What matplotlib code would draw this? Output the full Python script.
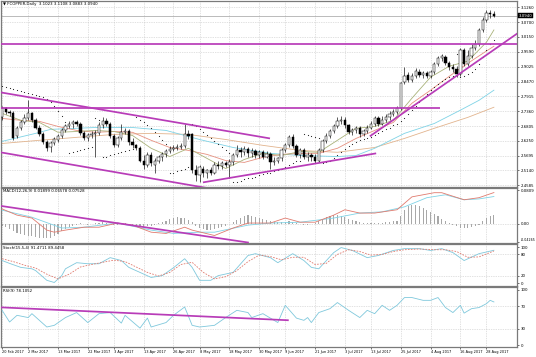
import matplotlib
matplotlib.use('Agg')
import matplotlib.pyplot as plt
import numpy as np

# ---------------- data ----------------
title_text = "\u25BC FCOPPER,Daily  3.1023 3.1108 3.0883 3.0940"
macd_text = "MACD(12,26,9) 0.01899 0.06578 0.07528"
stoch_text = "Stoch(15,5,4) 91.4711 89.4458"
rsi_text = "RSI(9) 78.1052"

date_labels = ["20 Feb 2017", "2 Mar 2017", "13 Mar 2017", "22 Mar 2017", "3 Apr 2017",
               "13 Apr 2017", "26 Apr 2017", "8 May 2017", "18 May 2017", "30 May 2017",
               "9 Jun 2017", "21 Jun 2017", "3 Jul 2017", "13 Jul 2017", "25 Jul 2017",
               "4 Aug 2017", "16 Aug 2017", "28 Aug 2017"]
date_label_idx = [0, 7, 15, 23, 30, 38, 46, 53, 61, 69, 76, 84, 92, 99, 107, 115, 123, 130]

price_ticks = [3.1260, 3.0700, 3.0150, 2.9590, 2.9025, 2.8470, 2.7915, 2.7360,
               2.6805, 2.6250, 2.5695, 2.5140, 2.4585]
last_price = 3.0940

open_ = [2.713, 2.747, 2.732, 2.728, 2.642, 2.672, 2.694, 2.709, 2.728, 2.702,
         2.675, 2.649, 2.619, 2.600, 2.615, 2.627, 2.642, 2.664, 2.679, 2.687,
         2.694, 2.687, 2.653, 2.634, 2.645, 2.649, 2.653, 2.683, 2.698, 2.687,
         2.642, 2.608, 2.634, 2.657, 2.660, 2.619, 2.608, 2.597, 2.551, 2.533,
         2.570, 2.533, 2.548, 2.563, 2.574, 2.585, 2.593, 2.597, 2.600, 2.604,
         2.649, 2.649, 2.514, 2.495, 2.521, 2.503, 2.514, 2.506, 2.536, 2.529,
         2.540, 2.533, 2.544, 2.570, 2.589, 2.582, 2.593, 2.578, 2.585, 2.570,
         2.582, 2.566, 2.574, 2.544, 2.551, 2.559, 2.589, 2.608, 2.638, 2.604,
         2.570, 2.589, 2.563, 2.570, 2.563, 2.551, 2.589, 2.623, 2.642, 2.660,
         2.679, 2.698, 2.705, 2.683, 2.657, 2.664, 2.672, 2.649, 2.660, 2.675,
         2.687, 2.709, 2.687, 2.702, 2.713, 2.724, 2.732, 2.747, 2.845, 2.871,
         2.852, 2.867, 2.883, 2.871, 2.879, 2.867, 2.883, 2.913, 2.935, 2.939,
         2.916, 2.901, 2.894, 2.875, 2.965, 2.913, 2.943, 2.973, 2.988, 3.041,
         3.078, 3.105, 3.1023]
close = [2.747, 2.732, 2.728, 2.634, 2.672, 2.694, 2.709, 2.728, 2.702, 2.675,
         2.649, 2.619, 2.597, 2.615, 2.630, 2.642, 2.664, 2.679, 2.690, 2.694,
         2.687, 2.653, 2.634, 2.645, 2.649, 2.653, 2.683, 2.698, 2.687, 2.642,
         2.608, 2.634, 2.657, 2.660, 2.619, 2.608, 2.597, 2.551, 2.533, 2.570,
         2.540, 2.548, 2.563, 2.574, 2.585, 2.593, 2.597, 2.600, 2.604, 2.649,
         2.642, 2.514, 2.495, 2.525, 2.503, 2.514, 2.506, 2.536, 2.529, 2.540,
         2.533, 2.544, 2.570, 2.589, 2.582, 2.593, 2.578, 2.585, 2.570, 2.582,
         2.566, 2.574, 2.544, 2.551, 2.559, 2.589, 2.608, 2.638, 2.604, 2.570,
         2.589, 2.563, 2.570, 2.563, 2.551, 2.589, 2.623, 2.642, 2.660, 2.679,
         2.698, 2.705, 2.683, 2.657, 2.664, 2.672, 2.649, 2.660, 2.675, 2.687,
         2.709, 2.687, 2.702, 2.713, 2.724, 2.732, 2.747, 2.841, 2.867, 2.852,
         2.867, 2.886, 2.871, 2.879, 2.867, 2.883, 2.913, 2.935, 2.943, 2.916,
         2.901, 2.894, 2.875, 2.965, 2.913, 2.943, 2.973, 2.988, 3.041, 3.078,
         3.105, 3.101, 3.0940]
high = [2.755, 2.751, 2.740, 2.736, 2.679, 2.702, 2.724, 2.777, 2.732, 2.709,
        2.683, 2.657, 2.627, 2.623, 2.638, 2.649, 2.672, 2.690, 2.698, 2.702,
        2.705, 2.694, 2.660, 2.653, 2.660, 2.664, 2.694, 2.713, 2.709, 2.694,
        2.649, 2.642, 2.687, 2.672, 2.668, 2.634, 2.612, 2.604, 2.570, 2.582,
        2.582, 2.559, 2.570, 2.582, 2.593, 2.604, 2.608, 2.612, 2.615, 2.687,
        2.664, 2.653, 2.533, 2.533, 2.529, 2.521, 2.525, 2.544, 2.548, 2.551,
        2.551, 2.555, 2.578, 2.608, 2.600, 2.604, 2.600, 2.597, 2.593, 2.589,
        2.589, 2.585, 2.582, 2.563, 2.566, 2.597, 2.615, 2.645, 2.649, 2.612,
        2.597, 2.597, 2.582, 2.578, 2.574, 2.597, 2.630, 2.653, 2.668, 2.687,
        2.713, 2.717, 2.713, 2.690, 2.675, 2.679, 2.679, 2.668, 2.683, 2.698,
        2.717, 2.717, 2.717, 2.724, 2.736, 2.743, 2.755, 2.845, 2.901, 2.883,
        2.879, 2.898, 2.894, 2.886, 2.886, 2.890, 2.920, 2.943, 2.950, 2.947,
        2.924, 2.913, 2.905, 2.973, 2.973, 2.965, 2.988, 3.003, 3.048, 3.090,
        3.116, 3.116, 3.1108]
low = [2.705, 2.724, 2.717, 2.627, 2.634, 2.664, 2.687, 2.702, 2.694, 2.668,
       2.642, 2.612, 2.585, 2.582, 2.608, 2.619, 2.634, 2.657, 2.672, 2.675,
       2.679, 2.645, 2.627, 2.623, 2.634, 2.563, 2.645, 2.672, 2.679, 2.634,
       2.600, 2.600, 2.627, 2.649, 2.608, 2.597, 2.589, 2.544, 2.521, 2.525,
       2.529, 2.503, 2.540, 2.551, 2.566, 2.578, 2.585, 2.589, 2.593, 2.597,
       2.630, 2.506, 2.476, 2.469, 2.491, 2.487, 2.495, 2.499, 2.521, 2.521,
       2.525, 2.487, 2.536, 2.563, 2.566, 2.570, 2.566, 2.563, 2.559, 2.559,
       2.555, 2.559, 2.521, 2.536, 2.540, 2.551, 2.582, 2.600, 2.597, 2.563,
       2.559, 2.555, 2.551, 2.551, 2.540, 2.544, 2.582, 2.615, 2.634, 2.653,
       2.672, 2.687, 2.675, 2.649, 2.645, 2.653, 2.638, 2.642, 2.653, 2.668,
       2.679, 2.679, 2.683, 2.694, 2.705, 2.717, 2.724, 2.740, 2.837, 2.845,
       2.845, 2.860, 2.864, 2.860, 2.860, 2.860, 2.875, 2.905, 2.924, 2.909,
       2.890, 2.883, 2.864, 2.867, 2.905, 2.905, 2.935, 2.965, 2.980, 3.033,
       3.071, 3.086, 3.0883]

sar = [2.830, 2.826, 2.822, 2.819, 2.815, 2.811, 2.807, 2.804, 2.800, 2.796,
       2.792, 2.788, 2.781, 2.770, 2.755, 2.736, 2.717, 2.694, 2.578, 2.582,
       2.585, 2.589, 2.593, 2.597, 2.600, 2.709, 2.705, 2.563, 2.566, 2.570,
       2.574, 2.578, 2.582, 2.585, 2.589, 2.593, 2.713, 2.705, 2.694, 2.683,
       2.672, 2.657, 2.642, 2.627, 2.612, 2.503, 2.506, 2.510, 2.514, 2.518,
       2.525, 2.687, 2.679, 2.668, 2.657, 2.645, 2.634, 2.623, 2.612, 2.600,
       2.589, 2.578, 2.469, 2.472, 2.476, 2.480, 2.484, 2.487, 2.491, 2.495,
       2.499, 2.503, 2.506, 2.510, 2.514, 2.518, 2.525, 2.533, 2.540, 2.548,
       2.551, 2.649, 2.645, 2.642, 2.638, 2.634, 2.540, 2.544, 2.551, 2.559,
       2.570, 2.582, 2.593, 2.604, 2.612, 2.619, 2.627, 2.630, 2.634, 2.638,
       2.645, 2.653, 2.660, 2.668, 2.675, 2.683, 2.690, 2.698, 2.709, 2.724,
       2.740, 2.755, 2.770, 2.785, 2.800, 2.815, 2.826, 2.837, 2.849, 2.856,
       2.864, 2.867, 2.950, 2.864, 2.867, 2.875, 2.883, 2.894, 2.913, 2.939,
       2.965, 2.988, 3.003]

# moving averages (bar index, value)
ma_fast_idx = [0, 5, 10, 15, 20, 25, 30, 35, 40, 45, 50, 55, 60, 65, 70, 75, 80, 85, 90, 95,
               100, 105, 110, 115, 120, 125, 130, 132]
ma_fast = [2.728, 2.702, 2.694, 2.657, 2.660, 2.664, 2.660, 2.645, 2.597, 2.566, 2.597, 2.559,
           2.521, 2.555, 2.578, 2.570, 2.585, 2.582, 2.627, 2.672, 2.679, 2.702, 2.785, 2.864,
           2.905, 2.924, 2.995, 3.041]
ma_mid_idx = [0, 5, 10, 15, 20, 25, 30, 35, 40, 45, 50, 55, 60, 65, 70, 75, 80, 85, 90, 95,
              100, 105, 110, 115, 120, 125, 130, 132]
ma_mid = [2.709, 2.702, 2.698, 2.679, 2.664, 2.657, 2.660, 2.657, 2.627, 2.600, 2.589, 2.574,
          2.551, 2.544, 2.563, 2.574, 2.578, 2.578, 2.597, 2.634, 2.664, 2.694, 2.766, 2.815,
          2.867, 2.916, 2.962, 2.980]
ma_slow_idx = [0, 9, 13, 25, 35, 44, 53, 62, 72, 80, 90, 95, 100, 108, 116, 123, 128, 132]
ma_slow = [2.623, 2.653, 2.668, 2.675, 2.675, 2.664, 2.630, 2.600, 2.578, 2.570, 2.566, 2.570,
           2.597, 2.653, 2.690, 2.740, 2.777, 2.815]
ma_long_idx = [0, 10, 20, 30, 40, 50, 60, 70, 80, 90, 100, 108, 116, 125, 132]
ma_long = [2.615, 2.627, 2.638, 2.649, 2.653, 2.649, 2.630, 2.608, 2.589, 2.582, 2.600, 2.634,
           2.672, 2.713, 2.751]

# user drawn lines (bar index pairs, price pairs)
trend_idx = [[-0.5, 71.9], [-0.5, 55.8], [53.9, 100.4], [98.7, 138.4]]
trend_val = [[2.807, 2.634], [2.582, 2.446], [2.469, 2.578], [2.642, 3.029]]
hlines_val = [2.988, 2.747]
hlines_idx = [[-0.5, 140.0], [-0.5, 117.5]]

# MACD
macd_idx = [0, 4, 8, 12, 14, 17, 22, 26, 31, 35, 40, 44, 49, 51, 57, 62, 66, 72, 76, 80, 84,
            89, 92, 96, 100, 106, 110, 116, 118, 124, 128, 132]
macd_main = [0.036, 0.021, 0.014, -0.015, -0.020, -0.015, -0.008, -0.008, 0.002, -0.003,
             -0.020, -0.023, -0.008, -0.015, -0.028, -0.010, 0.002, 0.002, 0.014, 0.004,
             0.004, 0.021, 0.034, 0.026, 0.026, 0.034, 0.065, 0.075, 0.075, 0.058, 0.063,
             0.0753]
signal_idx = [0, 8, 16, 22, 31, 40, 46, 53, 57, 66, 72, 80, 89, 96, 102, 108, 114, 119, 124,
              128, 132]
macd_signal = [0.033, 0.016, -0.010, -0.008, 0.002, -0.015, -0.023, -0.020, -0.020, -0.003,
               0.002, 0.004, 0.014, 0.026, 0.029, 0.041, 0.063, 0.070, 0.058, 0.060, 0.0658]
macd_hist = [-0.004, -0.008, -0.012,
             -0.018, -0.022, -0.025, -0.027, -0.028, -0.030, -0.031, -0.033, -0.034, -0.035,
             -0.033, -0.030,
             -0.024, -0.018, -0.012, -0.007, -0.004, -0.002,
             0.001, -0.001, -0.002, 0.000, 0.002, 0.003, 0.004, 0.002, -0.001, -0.003,
             -0.002, 0.001, 0.002, -0.002, -0.004, -0.006, -0.008, -0.008, -0.006, -0.004,
             -0.002, 0.002, 0.005, 0.008, 0.011,
             0.014, 0.016, 0.015, 0.013, 0.010,
             0.004, -0.004, -0.009, -0.012, -0.014, -0.015, -0.013, -0.010, -0.007, -0.004,
             -0.001, 0.004, 0.009, 0.014, 0.018, 0.021, 0.020, 0.017, 0.014, 0.011,
             0.009, 0.007, 0.005, 0.004, 0.004, 0.005, 0.006, 0.004, 0.002, 0.000, -0.002,
             -0.002, 0.000, 0.002,
             0.006, 0.011, 0.016, 0.019, 0.021, 0.021, 0.019, 0.016, 0.012, 0.009, 0.006,
             0.004, 0.002, 0.001, 0.001, 0.002, 0.003, 0.003, 0.004, 0.005, 0.006, 0.008,
             0.020, 0.034, 0.042, 0.046, 0.045, 0.042, 0.038, 0.033, 0.028, 0.023, 0.018,
             0.012, 0.007, 0.003,
             -0.002, -0.006, -0.009, -0.010, -0.010, -0.008, -0.006, -0.003,
             0.008, 0.015, 0.020, 0.021]
macd_trend_idx = [-0.5, 66.0]
macd_trend_val = [0.0434, -0.0448]
macd_ticks = [0.0809, 0.0, -0.04265]
macd_ticklabels = ["0.0809", "0.00", "-0.04265"]

# Stochastic
stoch_k_idx = [0, 2, 5, 8, 9, 12, 14, 16, 17, 20, 23, 26, 29, 32, 34, 37, 40, 43, 46, 49, 51,
               53, 56, 58, 62, 66, 68, 72, 74, 78, 81, 83, 85, 89, 91, 94, 98, 101, 105, 108,
               112, 115, 118, 121, 124, 128, 132]
stoch_k = [63, 55, 44, 40, 35, 8, 2, 21, 40, 57, 54, 54, 71, 63, 44, 30, 16, 21, 43, 68, 44,
           8, 8, 21, 30, 77, 82, 71, 57, 82, 63, 44, 40, 85, 99, 91, 71, 77, 91, 96,
           96, 91, 96, 85, 63, 82, 91.47]
stoch_d_idx = [0, 3, 6, 9, 12, 15, 18, 21, 24, 27, 30, 33, 36, 39, 42, 45, 48, 51, 54, 57, 60,
               63, 66, 69, 72, 75, 78, 81, 84, 87, 90, 93, 96, 99, 102, 105, 108, 112, 116,
               119, 122, 125, 128, 132]
stoch_d = [68, 60, 50, 42, 25, 12, 25, 45, 52, 58, 64, 60, 45, 30, 20, 30, 52, 58, 30, 12, 18,
           35, 60, 78, 74, 65, 72, 72, 52, 55, 80, 93, 88, 78, 80, 88, 93, 95, 93,
           93, 88, 72, 73, 89.45]
stoch_levels = [80, 20]
stoch_ticks = [100, 80, 20, 0]

# RSI
rsi_idx = [0, 2, 4, 7, 8, 12, 14, 17, 20, 23, 26, 29, 32, 33, 37, 39, 40, 44, 46, 49, 51, 53,
           57, 60, 63, 66, 67, 70, 74, 76, 79, 81, 82, 83, 85, 88, 90, 93, 96, 98, 100, 102,
           104, 106, 108, 110, 113, 115, 117, 119, 121, 123, 124, 126, 128, 130, 131, 132]
rsi = [63, 42, 54, 50, 57, 33, 36, 50, 59, 41, 57, 59, 40, 54, 31, 49, 33, 41, 54, 69, 36, 33,
       36, 50, 63, 59, 50, 57, 41, 72, 49, 45, 50, 41, 59, 66, 77, 63, 50, 63, 57, 72,
       63, 72, 86, 86, 81, 81, 86, 68, 59, 72, 58, 66, 68, 75, 81, 78.1]
rsi_trend_idx = [-0.5, 76.7]
rsi_trend_val = [68.4, 45.2]
rsi_levels = [70, 30]
rsi_ticks = [100, 70, 30, 0]

# ---------------- figure ----------------
W, H = 536, 357
fig = plt.figure(figsize=(W / 100, H / 100), dpi=100)
fig.patch.set_facecolor('white')
FS = 2.8
FS_DATE = 2.55
PURPLE = '#b83cb8'
GRID = '#c4c4c4'
SPINE = '#7a7a7a'
LW_TREND = 1.25


def add_ax(x0, y0, x1, y1):
    return fig.add_axes([x0 / W, 1 - y1 / H, (x1 - x0) / W, (y1 - y0) / H])


XL = (-0.3, 138.2)
n = len(close)
xs = np.arange(n)

ax_p = add_ax(1, 1, 517, 186.5)
ax_m = add_ax(1, 187.5, 517, 242.5)
ax_s = add_ax(1, 243.5, 517, 285.5)
ax_r = add_ax(1, 286.5, 517, 347)

for ax in (ax_p, ax_m, ax_s, ax_r):
    ax.set_xlim(*XL)
    ax.set_facecolor('white')
    for sp in ax.spines.values():
        sp.set_color(SPINE)
        sp.set_linewidth(0.9)
    ax.yaxis.tick_right()
    ax.tick_params(axis='y', length=1.5, width=0.4, pad=1, labelsize=FS, colors='black')
    ax.tick_params(axis='x', length=1.5, width=0.4, pad=0.6, labelsize=FS_DATE)
    ax.set_xticks(date_label_idx)
    ax.xaxis.grid(True, color=GRID, linestyle=(0, (1, 1.5)), linewidth=0.5)
    ax.set_axisbelow(True)
    if ax is not ax_r:
        ax.tick_params(axis='x', labelbottom=False, length=0)

# ---- price panel ----
ax_p.set_ylim(2.4536, 3.1497)
ax_p.set_yticks(price_ticks)
ax_p.set_yticklabels([f"{v:.4f}" for v in price_ticks])
ax_p.yaxis.grid(True, color=GRID, linestyle=(0, (1, 1.5)), linewidth=0.5)

# moving averages
ax_p.plot(ma_long_idx, ma_long, color='#e2b48e', lw=0.6, zorder=2)
ax_p.plot(ma_slow_idx, ma_slow, color='#7fd3e6', lw=0.6, zorder=2)
ax_p.plot(ma_mid_idx, ma_mid, color='#e69080', lw=0.6, zorder=2)
ax_p.plot(ma_fast_idx, ma_fast, color='#a9b27a', lw=0.6, zorder=2)

# candles
o = np.array(open_); c = np.array(close); h = np.array(high); l = np.array(low)
ax_p.vlines(xs, l, h, color='black', lw=0.45, zorder=3)
bull = c >= o
body_h = np.maximum(np.abs(c - o), 0.0012)
ax_p.bar(xs[bull], body_h[bull], bottom=np.minimum(o, c)[bull], width=0.62,
         color='white', edgecolor='black', linewidth=0.35, zorder=4)
ax_p.bar(xs[~bull], body_h[~bull], bottom=np.minimum(o, c)[~bull], width=0.62,
         color='black', edgecolor='black', linewidth=0.35, zorder=4)

# parabolic SAR
ax_p.scatter(xs, sar, s=0.7, color='#202020', linewidths=0, zorder=5)

# drawn lines
for ti, tv in zip(trend_idx, trend_val):
    ax_p.plot(ti, tv, color=PURPLE, lw=LW_TREND, zorder=6, solid_capstyle='butt')
for hv, hi in zip(hlines_val, hlines_idx):
    ax_p.plot(hi, [hv, hv], color=PURPLE, lw=LW_TREND, zorder=6, solid_capstyle='butt')

# bid line and price box
ax_p.axhline(last_price, color='#a0a0a0', lw=0.5, zorder=1)
ax_p.text(1.004, last_price, f"{last_price:.4f}", transform=ax_p.get_yaxis_transform(),
          fontsize=FS, color='white', va='center', ha='left',
          bbox=dict(boxstyle='square,pad=0.15', fc='black', ec='black', lw=0.3),
          clip_on=False, zorder=10)
ax_p.set_ylim(2.4536, 3.1497)
ax_p.text(0.004, 0.993, title_text, transform=ax_p.transAxes, fontsize=FS, va='top', ha='left')

# ---- MACD panel ----
ax_m.set_ylim(-0.0448, 0.0875)
ax_m.bar(xs[:len(macd_hist)], macd_hist, width=0.3, color='#a8a8a8', zorder=2)
ax_m.plot(signal_idx, macd_signal, color='#7fd3e6', lw=0.6, zorder=3)
ax_m.plot(macd_idx, macd_main, color='#e07a6e', lw=0.6, zorder=3)
ax_m.plot(macd_trend_idx, macd_trend_val, color=PURPLE, lw=LW_TREND, zorder=4)
ax_m.axhline(0, color=GRID, linestyle=(0, (1, 1.5)), lw=0.5, zorder=1)
ax_m.set_yticks(macd_ticks)
ax_m.set_yticklabels(macd_ticklabels)
ax_m.set_ylim(-0.0448, 0.0875)
for lbl in ax_m.get_yticklabels():
    if lbl.get_text().startswith('-'):
        lbl.set_fontsize(2.35)
        lbl.set_va('bottom')
ax_m.text(0.004, 0.97, macd_text, transform=ax_m.transAxes, fontsize=FS, va='top', ha='left')

# ---- Stochastic panel ----
ax_s.set_ylim(-6.4, 110.3)
for lv in stoch_levels:
    ax_s.axhline(lv, color=GRID, linestyle=(0, (1, 1.5)), lw=0.5, zorder=1)
ax_s.plot(stoch_k_idx, stoch_k, color='#7fc8dc', lw=0.6, zorder=3)
ax_s.plot(stoch_d_idx, stoch_d, color='#e07a6e', lw=0.6, linestyle=(0, (2, 1.5)), zorder=3)
ax_s.set_yticks(stoch_ticks)
ax_s.set_yticklabels([str(v) for v in stoch_ticks])
ax_s.text(0.004, 0.95, stoch_text, transform=ax_s.transAxes, fontsize=FS, va='top', ha='left')

# ---- RSI panel ----
ax_r.set_ylim(-3.0, 105.9)
for lv in rsi_levels:
    ax_r.axhline(lv, color=GRID, linestyle=(0, (1, 1.5)), lw=0.5, zorder=1)
ax_r.plot(rsi_idx, rsi, color='#7fc8dc', lw=0.6, zorder=3)
ax_r.plot(rsi_trend_idx, rsi_trend_val, color=PURPLE, lw=LW_TREND, zorder=4)
ax_r.set_yticks(rsi_ticks)
ax_r.set_yticklabels([str(v) for v in rsi_ticks])
ax_r.text(0.004, 0.96, rsi_text, transform=ax_r.transAxes, fontsize=FS, va='top', ha='left')

ax_r.set_xticklabels(date_labels)
for lbl in ax_r.get_xticklabels():
    lbl.set_ha('left')

fig.savefig('out.png', dpi=100, facecolor='white')
